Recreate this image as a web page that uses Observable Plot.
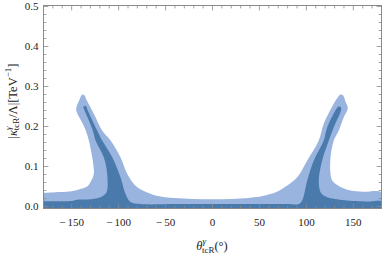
<!DOCTYPE html>
<html><head><meta charset="utf-8">
<script src="https://cdn.jsdelivr.net/npm/d3@7"></script>
<script src="https://cdn.jsdelivr.net/npm/@observablehq/plot@0.6"></script>
<style>body{margin:0;background:#fff}</style>
</head><body><div id="chart"></div>
<script>
// 2-sigma (light) region outline: x in degrees, y = |kappa/Lambda| [TeV^-1]
const outerX = [-180,-162,-150,-140.6,-133.5,-129.9,-126.4,-127.0,-128.1,-131.7,-135.0,-140.0,-144.1,-145.2,-141.5,-138.8,-136.5,-134.5,-126.4,-117.5,-108.6,-98,-90.9,-80.2,-66,-55.4,-41,-20,0,20,40,54.6,68,79.6,90.2,100.9,113.2,118.5,129.2,134.5,136.3,139,141.7,144.1,139.8,134.5,129.2,125.7,125.7,127.5,132.8,140,147,160,180,180,-180];
const outerY = [0.034,0.036,0.038,0.044,0.050,0.061,0.082,0.105,0.123,0.165,0.19,0.215,0.233,0.244,0.268,0.28,0.278,0.268,0.232,0.19,0.165,0.123,0.082,0.048,0.032,0.025,0.021,0.019,0.018,0.019,0.022,0.027,0.036,0.0525,0.073,0.115,0.165,0.207,0.257,0.276,0.28,0.278,0.262,0.246,0.223,0.19,0.165,0.123,0.082,0.065,0.054,0.045,0.040,0.037,0.035,-0.005,-0.005];
// 1-sigma (dark) region outline
const innerX = [-180,-150,-144.1,-130,-119.3,-114,-112.2,-112.2,-115.8,-124.6,-127.5,-131.7,-136.3,-137.5,-136,-134.5,-133.5,-122.8,-117.5,-106.8,-98,-92.7,-87.3,-76.7,-40,0,40,80,91.9,95.5,100.9,107.9,118.5,122.2,132.8,134.5,136.5,137.1,129.2,123.9,116.8,113.2,115,118,123.9,143.5,168,180,180,-180];
const innerY = [0.013,0.014,0.017,0.018,0.023,0.032,0.04,0.082,0.123,0.165,0.19,0.215,0.24,0.248,0.252,0.25,0.244,0.19,0.165,0.123,0.073,0.032,0.011,0.006,0.006,0.006,0.006,0.006,0.006,0.015,0.065,0.115,0.165,0.198,0.247,0.25,0.249,0.243,0.198,0.165,0.115,0.065,0.036,0.028,0.022,0.015,0.0125,0.0125,-0.005,-0.005];

const xTicks = [-150,-100,-50,0,50,100,150];
const yTicks = [0,0.1,0.2,0.3,0.4,0.5];
const xMinor = [-170,-160,-140,-130,-120,-110,-90,-80,-70,-60,-40,-30,-20,-10,10,20,30,40,60,70,80,90,110,120,130,140,160,170];
const yMinor = [0.02,0.04,0.06,0.08,0.12,0.14,0.16,0.18,0.22,0.24,0.26,0.28,0.32,0.34,0.36,0.38,0.42,0.44,0.46,0.48];
const xDomain = [-180,180];
const yDomain = [-0.005,0.5025];

const outer = outerX.map((x,i)=>({x, y: outerY[i]}));
const inner = innerX.map((x,i)=>({x, y: innerY[i]}));

const lightColor = "#99b4de";
const darkColor = "#4a7aab";
const frameColor = "#8a8a8a";
const serif = "Liberation Serif";
const tickShape = {draw(context, l) { context.moveTo(0,0); context.lineTo(0,-l); }};

function ticks(values, dim, at, rot, len) {
  return Plot.vector(values, {
    x: dim === "x" ? d => d : () => at,
    y: dim === "y" ? d => d : () => at,
    length: len, rotate: rot, anchor: "start", shape: tickShape,
    stroke: frameColor, strokeWidth: 0.8, fill: "none"
  });
}

const minusFmt = d => d < 0 ? "\u2212\u2009" + Math.abs(d) : String(d);

const svg = Plot.plot({
  width: 382, height: 256,
  marginLeft: 43, marginRight: 1, marginTop: 5, marginBottom: 48,
  style: {fontFamily: serif, fontSize: "11px", color: "#222", background: "#fff"},
  x: {domain: xDomain},
  y: {domain: yDomain},
  marks: [
    Plot.line(outer, {x: "x", y: "y", fill: lightColor, stroke: "none", curve: "catmull-rom", clip: true}),
    Plot.line(inner, {x: "x", y: "y", fill: darkColor, stroke: "none", curve: "catmull-rom", clip: true}),
    ticks(xTicks, "x", yDomain[0], 0, 4.5),
    ticks(xMinor, "x", yDomain[0], 0, 2.5),
    ticks(xTicks, "x", yDomain[1], 180, 4.5),
    ticks(xMinor, "x", yDomain[1], 180, 2.5),
    ticks(yTicks, "y", xDomain[0], 90, 4.5),
    ticks(yMinor, "y", xDomain[0], 90, 2.5),
    ticks(yTicks, "y", xDomain[1], -90, 4.5),
    ticks(yMinor, "y", xDomain[1], -90, 2.5),
    Plot.frame({stroke: frameColor, strokeWidth: 1}),
    Plot.axisX({ticks: xTicks, tickSize: 0, tickPadding: 10, tickFormat: minusFmt, label: null, fontFamily: serif, fontSize: 11}),
    Plot.axisY({ticks: yTicks, tickSize: 0, tickPadding: 5, tickFormat: d3.format(".1f"), label: null, fontFamily: serif, fontSize: 11})
  ]
});

const s = d3.select(svg);
// y-axis title
const yl = s.append("text")
  .attr("transform", "translate(13,101) rotate(-90)")
  .attr("text-anchor", "middle")
  .attr("dominant-baseline", "central")
  .attr("font-family", serif)
  .attr("font-size", 12.5)
  .attr("fill", "#222");
yl.append("tspan").text("|");
yl.append("tspan").attr("font-style", "italic").text("κ");
yl.append("tspan").attr("font-style", "italic").attr("font-size", 9).attr("dy", -5).text("γ");
yl.append("tspan").attr("font-size", 9).attr("dx", -4).attr("dy", 8).text("tcR");
yl.append("tspan").attr("dy", -3).text("/Λ|[TeV");
yl.append("tspan").attr("font-size", 9).attr("dy", -5).text("−1");
yl.append("tspan").attr("dy", 5).text("]");

// x-axis title
const xl = s.append("text")
  .attr("transform", "translate(212,250)")
  .attr("text-anchor", "middle")
  .attr("font-family", serif)
  .attr("font-size", 12.5)
  .attr("fill", "#222");
xl.append("tspan").attr("font-style", "italic").text("θ");
xl.append("tspan").attr("font-style", "italic").attr("font-size", 9).attr("dy", -6).text("γ");
xl.append("tspan").attr("font-size", 9).attr("dx", -4).attr("dy", 9).text("tcR");
xl.append("tspan").attr("dy", -3).text("(°)");

document.getElementById("chart").appendChild(svg);
</script>
</body></html>
